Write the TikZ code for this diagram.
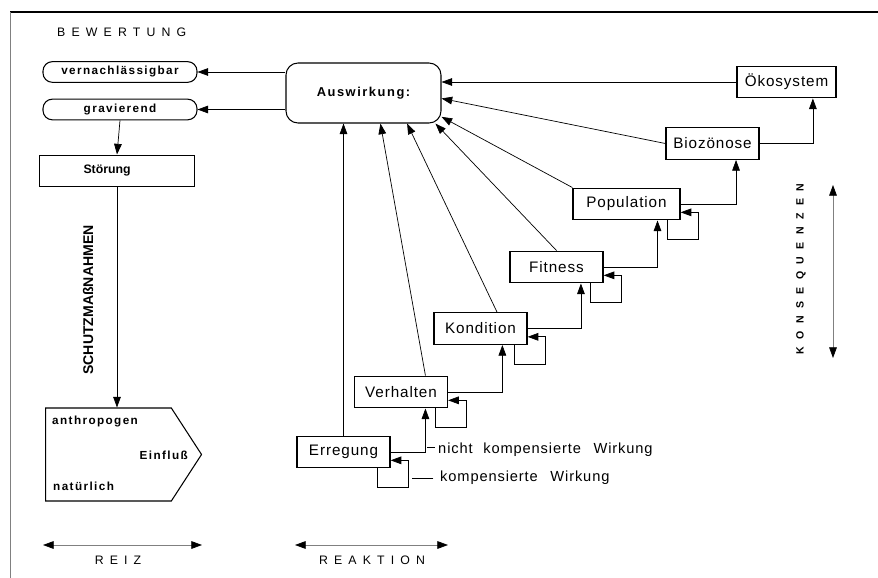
\documentclass[tikz,border=0pt]{standalone}
\usepackage{fontspec}
\setmainfont{Liberation Sans}
\newfontfamily\lblfont[LetterSpace=12]{Liberation Sans}
\newfontfamily\stgfont[LetterSpace=6]{Liberation Sans}
\newfontfamily\wdfont[LetterSpace=50]{Liberation Sans}
\newfontfamily\konfont[LetterSpace=70]{Liberation Sans}
\usetikzlibrary{arrows.meta,shapes.symbols}

\begin{document}
\begin{tikzpicture}[x=0.3mm, y=-0.3mm,
	conn/.style={-{Triangle[length=3.2mm,width=2.3mm]}, line width=0.6pt},
	rng/.style={{Triangle[length=3.2mm,width=2.3mm,color=black]}-{Triangle[length=3.2mm,width=2.3mm,color=black]}, line width=0.6pt, gray},
	boldlbl/.style={font=\lblfont\bfseries\fontsize{10}{12}\selectfont},
	pill/.style={draw, boldlbl, line width=0.9pt, rounded corners=2.8mm, minimum width=46.2mm, minimum height=6.2mm, inner sep=0pt},
	stage/.style={draw, line width=1.1pt, minimum width=27.9mm, minimum height=9.5mm, inner sep=0pt, font=\stgfont\fontsize{13}{15}\selectfont},
	note/.style={inner sep=0pt, font=\stgfont\fontsize{12.5}{15}\selectfont},
	hdr/.style={inner sep=0pt, font=\wdfont\fontsize{10.5}{12}\selectfont}]
	\useasboundingbox (0,0) rectangle (878,578);
	
	%frame
	\draw[line width=1pt] (10,12) -- (878,12);
	\draw[line width=0.5pt, gray] (10,12) -- (10,578);
	
	%left column
	\node[hdr, anchor=west] (bew) at (57,32) {BEWERTUNG};
	\node[pill] (vern) at (120,72) {vernachlässigbar};
	\node[pill] (grav) at (120,109.5) {gravierend};
	\node[stage, font=\bfseries\fontsize{10.5}{12}\selectfont, minimum width=46.5mm, text width=20.1mm, inner xsep=13.2mm, align=left] (stoer) at (117,171) {Störung};
	\node[draw, shape=signal, signal to=east, signal pointer angle=114, minimum width=46.8mm, minimum height=27.9mm, line width=0.9pt, anchor=west] (einfl) at (45,454.5) {};
	\node[boldlbl, inner sep=0pt, anchor=west] (anth) at (52,421) {anthropogen};
	\node[boldlbl, inner sep=0pt, anchor=east] (einf) at (188,455) {Einfluß};
	\node[boldlbl, inner sep=0pt, anchor=west] (natl) at (53,486) {natürlich};
	\node[rotate=90, font=\bfseries\fontsize{12}{14}\selectfont] (schutz) at (88,300) {SCHUTZMAßNAHMEN};
	
	\draw[conn] (grav.south) -- (stoer.north);
	\draw[conn] (stoer.south) -- (stoer.south |- einfl.north);
	
	%effect
	\node[pill, font=\lblfont\bfseries\fontsize{11}{13}\selectfont, minimum width=46.5mm, minimum height=18mm, rounded corners=3.6mm] (ausw) at (363.5,93) {Auswirkung:};
	\draw[conn] (ausw.west |- vern.east) -- (vern.east);
	\draw[conn] (ausw.west |- grav.east) -- (grav.east);
	
	%levels
	\node[stage] (erreg) at (343.5,452) {Erregung};
	\node[stage] (verh) at (401,392) {Verhalten};
	\node[stage] (kond) at (480.5,328.5) {Kondition};
	\node[stage] (fit) at (556.5,267) {Fitness};
	\node[stage, minimum width=32.1mm] (pop) at (626.5,204) {Population};
	\node[stage] (bioz) at (712.5,143.5) {Biozönose};
	\node[stage, minimum width=29.7mm] (oeko) at (786.5,82) {Ökosystem};
	
	\draw[conn] (oeko.west) -- (ausw.east |- oeko.west);
	\draw[conn] (bioz.west) -- (ausw.-4);
	\draw[conn] (pop.north west) -- (ausw.-17);
	\draw[conn] (fit.north) -- (ausw.-23);
	\draw[conn] (kond.45) -- (ausw.-35);
	\draw[conn] (verh.34) -- (ausw.-61);
	\draw[conn] (erreg.north) -- (erreg.north |- ausw.south);
	
	\foreach \a/\b/\w in {erreg/verh/34, verh/kond/37, kond/fit/34, fit/pop/28, pop/bioz/35, bioz/oeko/32}
		\draw[conn] (\a.east) -| (\b.-\w);
	
	\foreach \n in {erreg, verh, kond, fit, pop}
		\draw[conn] ([xshift=-3.9mm]\n.south east) -- ++(0,19) -- ++(31,0) |- ([yshift=-2.5mm]\n.east);
	
	\node[note, anchor=west] (nkw) at (438,450) {nicht\hspace{3.2mm}kompensierte\hspace{3.8mm}Wirkung};
	\draw[line width=0.8pt] ([xshift=-1mm,yshift=0.9mm]nkw.west) -- ++(-8,0);
	\node[note, anchor=west] (kw) at (440,478) {kompensierte\hspace{3.8mm}Wirkung};
	\draw[line width=0.6pt] ([xshift=-2mm]kw.west) -- ++(-21,0);
	
	%ranges
	\draw[rng] (43,545) -- (202,545);
	\node[hdr] (reiz) at (118,560) {REIZ};
	\draw[rng] (295,545) -- (448,545);
	\node[hdr] (reak) at (372,560) {REAKTION};
	\draw[rng] (833,185) -- (833,358);
	\node[rotate=90, inner sep=0pt, font=\konfont\bfseries\fontsize{9}{11}\selectfont] (kons) at (801,269) {KONSEQUENZEN};
\end{tikzpicture}
\end{document}
